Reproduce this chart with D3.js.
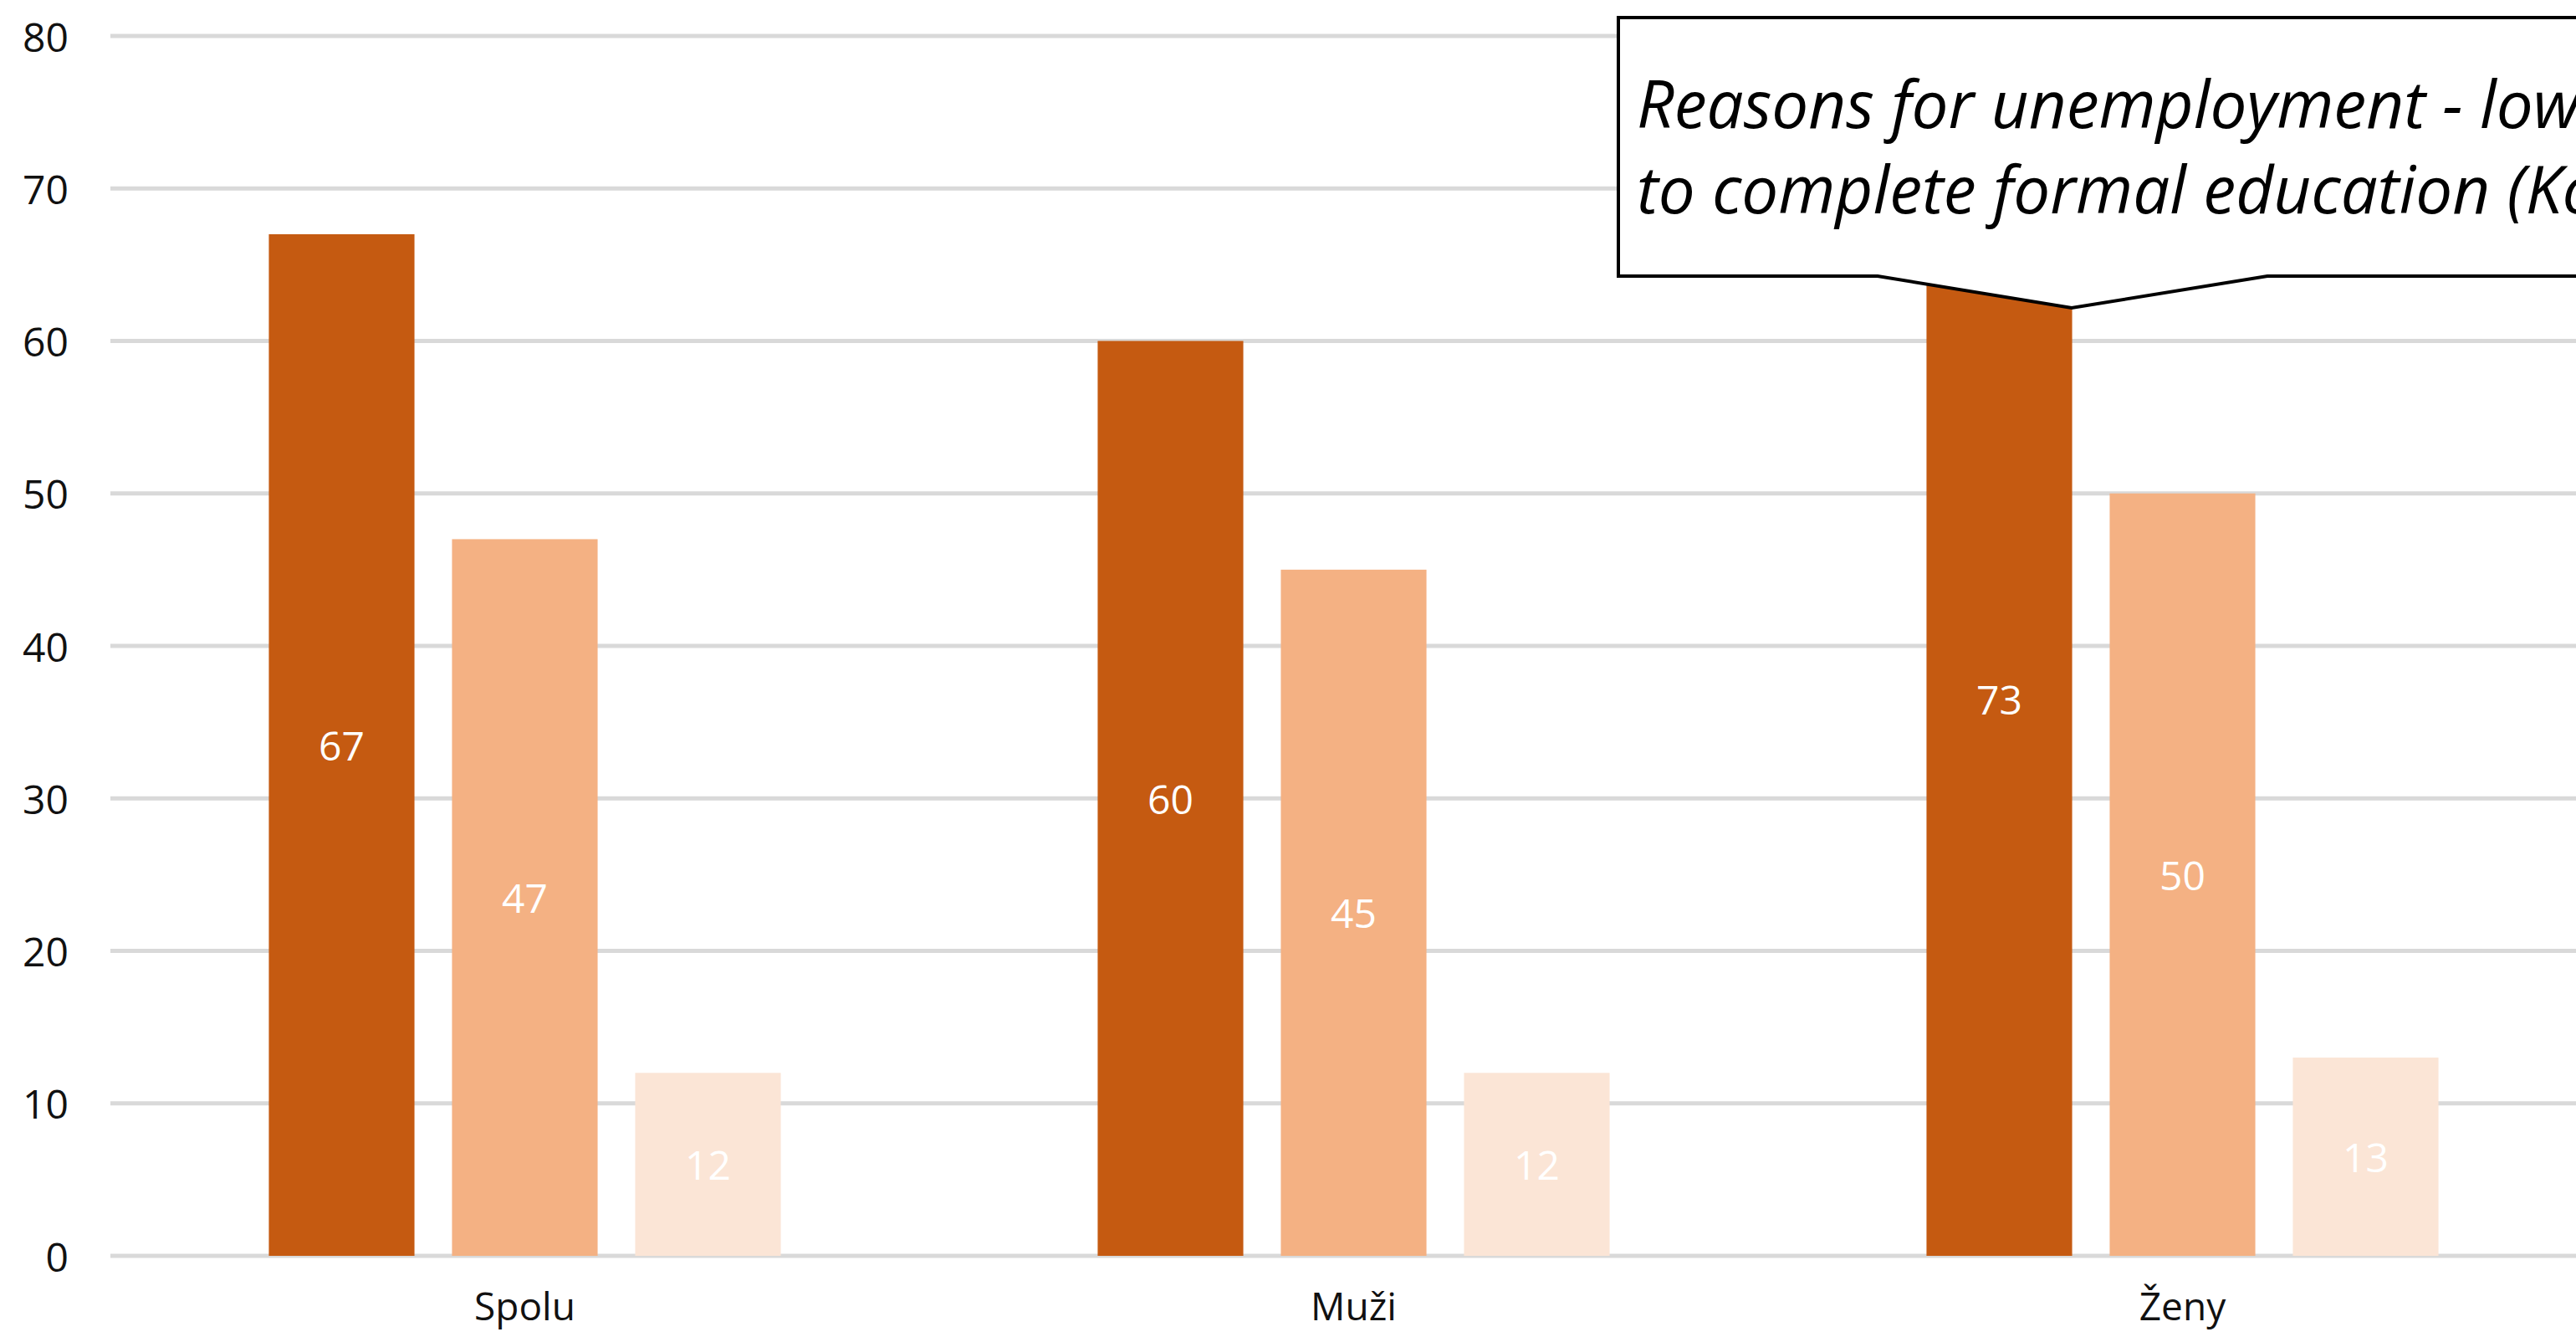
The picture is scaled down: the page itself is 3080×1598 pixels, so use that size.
<!DOCTYPE html>
<html>
<head>
<meta charset="utf-8">
<script src="https://cdn.jsdelivr.net/npm/d3@7"></script>
<style>
  html, body { margin: 0; padding: 0; background: #fff; overflow: hidden; }
  svg { display: block; }
</style>
</head>
<body>
<svg id="chart" width="3080" height="1598"></svg>
<script>
// ---- data ----
const categories = ["Spolu", "Muži", "Ženy"];
const seriesNames = ["s1", "s2", "s3"];
const series1 = [67, 60, 73];
const series2 = [47, 45, 50];
const series3 = [12, 12, 13];
const yTicks = [0, 10, 20, 30, 40, 50, 60, 70, 80];
const colors = ["#C55A11", "#F4B183", "#FBE5D6"];
const calloutLines = ["Reasons for unemployment - low willingness",
                      "to complete formal education (Košice region)"];

const allSeries = [series1, series2, series3];
const rows = categories.map((c, i) => ({cat: c, vals: allSeries.map(s => s[i])}));

const svg = d3.select("#chart");
const font = "'Open Sans', 'Noto Sans', sans-serif";

const x0 = d3.scaleBand().domain(categories).range([132, 132 + 3 * 991]).padding(0);
const x1 = d3.scaleBand().domain(seriesNames).range([0, x0.bandwidth()])
  .paddingInner(0.205).paddingOuter(0.865);
const y = d3.scaleLinear().domain([0, 80]).range([1501, 43]);

// gridlines
svg.append("g").selectAll("line").data(yTicks).join("line")
  .attr("x1", 132).attr("x2", 3105)
  .attr("y1", d => y(d)).attr("y2", d => y(d))
  .attr("stroke", "#d9d9d9").attr("stroke-width", 5);

// y tick labels
svg.append("g").selectAll("text").data(yTicks).join("text")
  .attr("x", 82).attr("y", d => y(d))
  .attr("text-anchor", "end").attr("dominant-baseline", "central")
  .attr("font-family", font).attr("font-size", 48).attr("fill", "#111")
  .text(d => d);

// bars
const groups = svg.append("g").selectAll("g").data(rows).join("g")
  .attr("transform", d => `translate(${x0(d.cat)},0)`);

groups.selectAll("rect").data(d => d.vals.map((v, i) => ({v, s: seriesNames[i], i})))
  .join("rect")
  .attr("x", d => x1(d.s)).attr("width", x1.bandwidth())
  .attr("y", d => y(d.v)).attr("height", d => y(0) - y(d.v))
  .attr("fill", d => colors[d.i]);

groups.selectAll("text.val").data(d => d.vals.map((v, i) => ({v, s: seriesNames[i], i})))
  .join("text").attr("class", "val")
  .attr("x", d => x1(d.s) + x1.bandwidth() / 2)
  .attr("y", d => (y(d.v) + y(0)) / 2)
  .attr("text-anchor", "middle").attr("dominant-baseline", "central")
  .attr("font-family", font).attr("font-size", 48).attr("fill", "#fff")
  .text(d => d.v);

// x labels
svg.append("g").selectAll("text").data(categories).join("text")
  .attr("x", d => x0(d) + x0.bandwidth() / 2).attr("y", 1578)
  .attr("text-anchor", "middle")
  .attr("font-family", font).attr("font-size", 46).attr("fill", "#111")
  .text(d => d);

// callout
const callout = svg.append("g");
callout.append("path")
  .attr("d", "M1935,21 L3200,21 L3200,330 L2711,330 L2477,368 L2245,330 L1935,330 Z")
  .attr("fill", "#fff").attr("stroke", "#000").attr("stroke-width", 4)
  .attr("stroke-linejoin", "miter");

// size callout font to match reference width
const probe = svg.append("text").attr("font-family", font).attr("font-style", "italic")
  .attr("font-size", 100).text("Reasons for unemployment");
const w = probe.node().getComputedTextLength();
probe.remove();
const fs = 100 * 943 / w;

callout.selectAll("text").data(calloutLines).join("text")
  .attr("x", 1957).attr("y", (d, i) => 153 + i * 102)
  .attr("font-family", font).attr("font-style", "italic")
  .attr("font-size", fs).attr("fill", "#000")
  .text(d => d);
</script>
</body>
</html>
